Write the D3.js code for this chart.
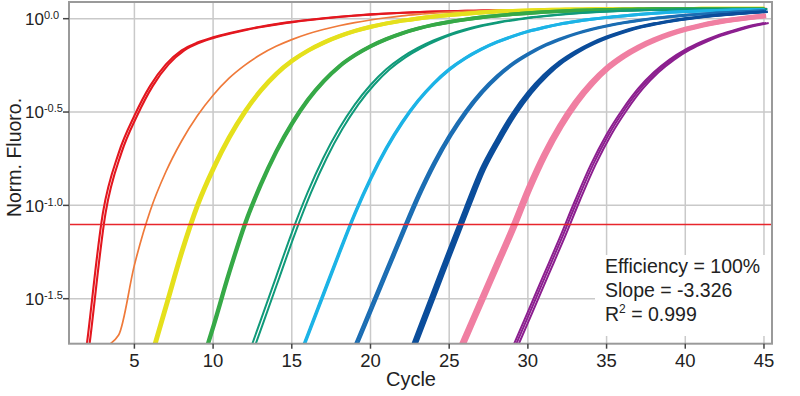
<!DOCTYPE html>
<html><head><meta charset="utf-8">
<script src="https://cdn.jsdelivr.net/npm/d3@7"></script>
<style>body{margin:0;background:#fff} svg{display:block;font-family:"Liberation Sans",Arial,Helvetica,sans-serif}</style>
</head><body><svg id="c" width="800" height="396"></svg>
<script>
// ---- data (log10 of normalized fluorescence per cycle) ----
const cycles = [1,2,3,4,5,6,7,8,9,10,11,12,13,14,15,16,17,18,19,20,21,22,23,24,25,26,27,28,29,30,31,32,33,34,35,36,37,38,39,40,41,42,43,44,45];
const red = [-2.4,-1.73,-1.04,-0.72,-0.52,-0.36,-0.245,-0.17,-0.128,-0.1,-0.078,-0.059,-0.043,-0.029,-0.017,-0.007,0.002,0.01,0.017,0.023,0.028,0.032,0.035,0.038,0.040,0.042,0.043,0.044,0.045,0.046,0.047,0.048,0.048,0.049,0.049,0.050,0.050,0.051,0.051,0.052,0.052,0.052,0.053,0.053,0.053];
const orange = [null,null,-1.76,-1.694,-1.32,-1.03,-0.82,-0.655,-0.52,-0.41,-0.32,-0.25,-0.193,-0.148,-0.112,-0.082,-0.058,-0.038,-0.021,-0.007,0.005,0.015,0.023,0.03,0.035,0.039,0.042,0.044,0.046,0.047,0.048,0.049,0.050,0.050,0.051,0.051,0.052,0.052,0.052,0.052,0.053,0.053,0.053,0.053,0.053];
const yellow = [null,null,null,null,-2.115,-1.825,-1.535,-1.245,-0.995,-0.80,-0.635,-0.4975,-0.385,-0.295,-0.225,-0.171,-0.128,-0.0935,-0.0655,-0.043,-0.025,-0.0105,0.0015,0.0115,0.020,0.027,0.033,0.038,0.0415,0.044,0.0465,0.048,0.0495,0.050,0.051,0.051,0.052,0.052,0.052,0.052,0.053,0.053,0.053,0.053,0.053];
const green = [null,null,null,null,null,null,null,null,-1.919,-1.646,-1.36,-1.10,-0.89,-0.71,-0.56,-0.435,-0.335,-0.255,-0.195,-0.147,-0.109,-0.078,-0.053,-0.033,-0.017,-0.004,0.007,0.016,0.0235,0.030,0.0355,0.040,0.043,0.0455,0.0475,0.049,0.050,0.051,0.051,0.052,0.052,0.052,0.052,0.052,0.052];
const teal = [null,null,null,null,null,null,null,null,null,null,null,-1.858,-1.621,-1.384,-1.147,-0.932,-0.746,-0.59,-0.46,-0.355,-0.271,-0.207,-0.157,-0.117,-0.084,-0.058,-0.037,-0.020,-0.007,0.005,0.014,0.022,0.029,0.0345,0.039,0.0425,0.045,0.047,0.0485,0.050,0.050,0.051,0.051,0.051,0.052];
const cyan = [null,null,null,null,null,null,null,null,null,null,null,null,null,null,-1.914,-1.694,-1.474,-1.254,-1.042,-0.855,-0.693,-0.5555,-0.4405,-0.347,-0.271,-0.212,-0.1645,-0.126,-0.0945,-0.068,-0.047,-0.029,-0.015,-0.003,0.007,0.015,0.022,0.0285,0.034,0.038,0.0415,0.0445,0.046,0.048,0.049];
const blue = [null,null,null,null,null,null,null,null,null,null,null,null,null,null,null,null,null,-1.953,-1.75,-1.547,-1.344,-1.141,-0.945,-0.772,-0.624,-0.498,-0.393,-0.308,-0.240,-0.187,-0.143,-0.1085,-0.080,-0.0565,-0.0375,-0.022,-0.009,0.002,0.011,0.019,0.0255,0.031,0.036,0.040,0.043];
const darkBlue = [null,null,null,null,null,null,null,null,null,null,null,null,null,null,null,null,null,null,null,null,null,-1.892,-1.672,-1.452,-1.232,-1.016,-0.808,-0.65,-0.51,-0.395,-0.303,-0.231,-0.176,-0.132,-0.097,-0.068,-0.045,-0.0265,-0.012,0.0004,0.0106,0.019,0.026,0.032,0.037];
const pink = [null,null,null,null,null,null,null,null,null,null,null,null,null,null,null,null,null,null,null,null,null,null,null,null,-1.895,-1.701,-1.507,-1.313,-1.119,-0.911,-0.728,-0.575,-0.4475,-0.345,-0.263,-0.201,-0.152,-0.113,-0.081,-0.0555,-0.035,-0.0186,-0.0053,0.006,0.015];
const purple = [null,null,null,null,null,null,null,null,null,null,null,null,null,null,null,null,null,null,null,null,null,null,null,null,null,null,null,-1.962,-1.766,-1.570,-1.374,-1.178,-0.974,-0.782,-0.62,-0.4875,-0.375,-0.287,-0.219,-0.166,-0.125,-0.091,-0.0645,-0.041,-0.0234];
// replicate offsets (cycles) per dilution
const replicateShifts = [[0,0.17],[0],[0,0.06],[0,0.05],[0,0.22],[0,0.04],[0,0.15],[0,0.12,0.25],[0,0.14],[0,0.14,0.3]];
const seriesValues = [red, orange, yellow, green, teal, cyan, blue, darkBlue, pink, purple];
const seriesColors = ["#e3171f","#ef7a3a","#e5e01c","#36a947","#109a7a","#1cb3e6","#1b6db3","#0b4d9b","#f07fa2","#8c1f8f"];
const seriesWidths = [2.1,1.7,4,3.6,2,3,2.6,2.6,4.8,2];

const thresholdLog = -1.102;
const xTicks = [5,10,15,20,25,30,35,40,45];
const yTicks = [0,-0.5,-1,-1.5];
const yTickLabels = ["0.0","-0.5","-1.0","-1.5"];
const statsLines = ["Efficiency = 100%","Slope = -3.326","R"];

// ---- layout ----
const L = 69, R = 772, T = 2, B = 343.7;
const svg = d3.select("#c");
const x = d3.scaleLinear().domain([0.845, 45.51]).range([L, R]);
const y = d3.scaleLinear().domain([-1.741, 0.0894]).range([B, T]);

// grid
const grid = svg.append("g").attr("stroke","#c9c9c9").attr("stroke-width",1.5);
grid.selectAll("line.v").data(xTicks).join("line").attr("class","v")
  .attr("x1",d=>x(d)).attr("x2",d=>x(d)).attr("y1",T).attr("y2",B);
grid.selectAll("line.h").data(yTicks).join("line").attr("class","h")
  .attr("x1",L).attr("x2",R).attr("y1",d=>y(d)).attr("y2",d=>y(d));

// stats box background
svg.append("rect").attr("x",595).attr("y",255).attr("width",R-595).attr("height",81).attr("fill","#fff");

// curves
svg.append("clipPath").attr("id","clip").append("rect").attr("x",L).attr("y",T).attr("width",R-L).attr("height",B-T);
const plot = svg.append("g").attr("clip-path","url(#clip)");
seriesValues.forEach((vals,i)=>{
  const pts = cycles.map((c,j)=>({c, v: vals[j]}));
  replicateShifts[i].forEach(s=>{
    const line = d3.line().defined(d=>d.v!=null).x(d=>x(d.c+s)).y(d=>y(d.v)).curve(d3.curveMonotoneX);
    plot.append("path").attr("d",line(pts)).attr("fill","none")
      .attr("stroke",seriesColors[i]).attr("stroke-width",seriesWidths[i]).attr("stroke-linejoin","round");
  });
});

// threshold
plot.append("line").attr("x1",L).attr("x2",R).attr("y1",y(thresholdLog)).attr("y2",y(thresholdLog))
  .attr("stroke","#e8262c").attr("stroke-width",1.5);

// frame
svg.append("rect").attr("x",L).attr("y",T).attr("width",R-L).attr("height",B-T)
  .attr("fill","none").attr("stroke","#9a9a9a").attr("stroke-width",2);

// x axis ticks + labels
const xa = svg.append("g");
xa.selectAll("line").data(xTicks).join("line")
  .attr("x1",d=>x(d)).attr("x2",d=>x(d)).attr("y1",B).attr("y2",B+5).attr("stroke","#444").attr("stroke-width",1.5);
xa.selectAll("text").data(xTicks).join("text")
  .attr("x",d=>x(d)).attr("y",367).attr("text-anchor","middle").attr("font-size",18.5).attr("fill","#222").text(d=>d);
svg.append("text").attr("x",411).attr("y",386).attr("text-anchor","middle").attr("font-size",20).attr("fill","#222").text("Cycle");

// y axis ticks + labels
const ya = svg.append("g");
ya.selectAll("line").data(yTicks).join("line")
  .attr("x1",L-6).attr("x2",L).attr("y1",d=>y(d)).attr("y2",d=>y(d)).attr("stroke","#444").attr("stroke-width",1.5);
const yt = ya.selectAll("text").data(yTicks).join("text")
  .attr("x",25).attr("y",d=>y(d)+6.3).attr("font-size",17).attr("fill","#222");
yt.append("tspan").text("10");
yt.append("tspan").attr("dy",-6).attr("font-size",11).text((d,i)=>yTickLabels[i]);
svg.append("text").attr("transform","translate(21,157.5) rotate(-90)").attr("text-anchor","middle")
  .attr("font-size",19.5).attr("fill","#222").text("Norm. Fluoro.");

// stats
const st = svg.append("g").attr("font-size",19.5).attr("fill","#222");
st.append("text").attr("x",605).attr("y",273.3).text(statsLines[0]);
st.append("text").attr("x",605).attr("y",297).text(statsLines[1]);
const r2 = st.append("text").attr("x",605).attr("y",320.7);
r2.append("tspan").text(statsLines[2]);
r2.append("tspan").attr("dy",-8).attr("font-size",12).text("2");
r2.append("tspan").attr("dy",8).text(" = 0.999");
</script></body></html>
